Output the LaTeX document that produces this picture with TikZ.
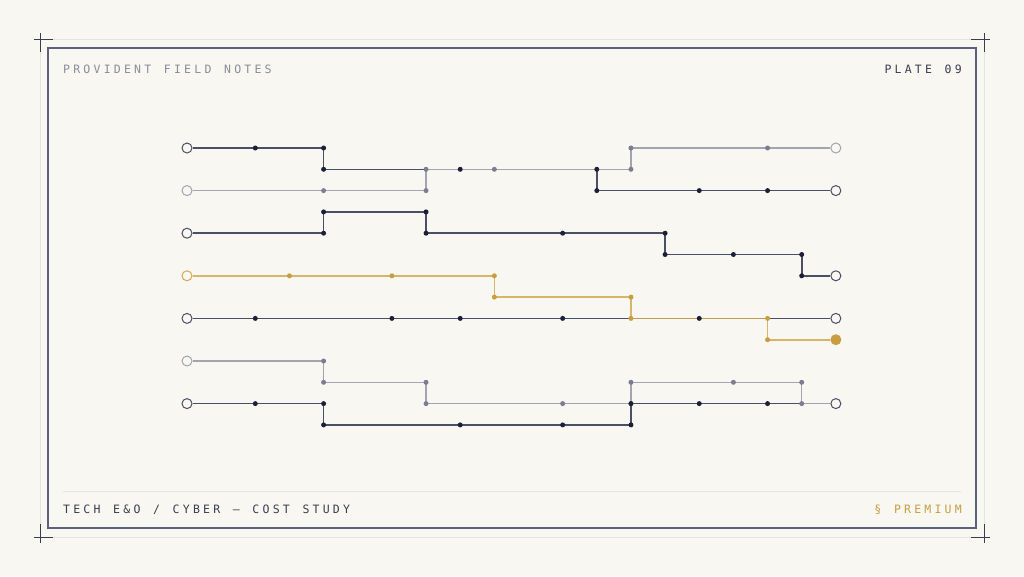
\documentclass[tikz,border=0pt]{standalone}
\usepackage{fontspec}
\newfontfamily\platefont[LetterSpace=28, WordSpace=1.25]{DejaVu Sans Mono}
\definecolor{paper}{HTML}{F8F7F2}
\definecolor{ink}{HTML}{1B2038}
\definecolor{inkline}{HTML}{4A4F66}
\definecolor{mist}{HTML}{7A7E90}
\definecolor{mistline}{HTML}{A2A5B1}
\definecolor{ochre}{HTML}{C99E40}
\definecolor{ochreline}{HTML}{D2AA52}
\definecolor{framecol}{HTML}{5C6078}
\definecolor{rulecol}{HTML}{E6E4DC}
\definecolor{textgrey}{HTML}{8A8D99}
\definecolor{textdark}{HTML}{3A3D50}
\begin{document}
\begin{tikzpicture}[x=1pt, y=-1pt,
    caps/.style = {font=\platefont\fontsize{11.5}{13}\selectfont, inner sep=0pt},
    port/.style = {circle, fill=paper, line width=1pt, inner sep=0pt, minimum size=10pt},
    inkdot/.style = {circle, fill=ink, inner sep=0pt, minimum size=5pt},
    mistdot/.style = {circle, fill=mist, inner sep=0pt, minimum size=5pt},
    ochredot/.style = {circle, fill=ochre, inner sep=0pt, minimum size=5pt},
    inkwire/.style = {draw=inkline, line width=1.6pt},
    mistwire/.style = {draw=mistline, line width=1.4pt},
    ochrewire/.style = {draw=ochreline, line width=1.6pt, opacity=0.85}]

    % page and frame
    \fill[paper] (0,0) rectangle (1024,576);
    \useasboundingbox (0,0) rectangle (1024,576);
    \draw[rulecol, line width=0.7pt] (40,39) rectangle (984,537);
    \draw[framecol, line width=1.3pt] (48,48) rectangle (976,528);
    \draw[rulecol, line width=0.7pt] (63,491) -- (961,491);
    \foreach \x/\y/\sx/\sy in {40/39/1/1, 984/39/-1/1, 40/537/1/-1, 984/537/-1/-1}
        \draw[textdark, line width=0.8pt] (\x-6*\sx,\y) -- ++(19*\sx,0) (\x,\y-6*\sy) -- ++(0,19*\sy);

    % captions
    \node[caps, text=textgrey, anchor=base west] (series) at (63,73) {PROVIDENT FIELD NOTES};
    \node[caps, text=textdark, anchor=base east] (plate) at (962,73) {PLATE 09};
    \node[caps, text=textdark, anchor=base west] (study) at (63,513) {TECH E\&O / CYBER — COST STUDY};
    \node[caps, text=ochre, anchor=base east] (tier) at (962,513) {§ PREMIUM};

    \begin{scope}[shift={(187,148)}, x=34.15pt, y=-21.3pt]
        % turning points of each wire
        \foreach \c/\r [count=\i] in {2/0,4/0,4/1,8/1,12/1,12/2,15/2,17/2} \coordinate (a\i) at (\c,\r);
        \foreach \c/\r [count=\i] in {4/2,7/2,7/1,9/1,13/1,13/0,17/0} \coordinate (b\i) at (\c,\r);
        \foreach \c/\r [count=\i] in {4/4,4/3,7/3,7/4,11/4,14/4,14/5,16/5,18/5,18/6} \coordinate (c\i) at (\c,\r);
        \foreach \c/\r [count=\i] in {3/6,6/6,9/6,9/7,13/7,13/8,17/8,17/9} \coordinate (d\i) at (\c,\r);
        \foreach \c/\r [count=\i] in {2/8,6/8,8/8,11/8,15/8} \coordinate (e\i) at (\c,\r);
        \foreach \c/\r [count=\i] in {4/10,4/11,7/11,7/12,11/12,13/12,13/11,16/11,18/11,18/12} \coordinate (f\i) at (\c,\r);
        \foreach \c/\r [count=\i] in {2/12,4/12,4/13,8/13,11/13,13/13,13/12,15/12,17/12} \coordinate (g\i) at (\c,\r);

        % ports
        \node[port, draw=inkline] (aS) at (0,0) {};
        \node[port, draw=mistline] (bS) at (0,2) {};
        \node[port, draw=inkline] (cS) at (0,4) {};
        \node[port, draw=ochreline] (dS) at (0,6) {};
        \node[port, draw=inkline] (eS) at (0,8) {};
        \node[port, draw=mistline] (fS) at (0,10) {};
        \node[port, draw=inkline] (gS) at (0,12) {};
        \node[port, draw=mistline] (bE) at (19,0) {};
        \node[port, draw=inkline] (aE) at (19,2) {};
        \node[port, draw=inkline] (cE) at (19,6) {};
        \node[port, draw=inkline] (eE) at (19,8) {};
        \node[circle, fill=ochre, inner sep=0pt, minimum size=11pt] (dE) at (19,9) {};
        \node[port, draw=inkline] (gE) at (19,12) {};

        % wires
        \draw[inkwire] (aS) -- (a1) -- (a2) -- (a3) -- (a4) -- (a5) -- (a6) -- (a7) -- (a8) -- (aE);
        \draw[inkwire] (cS) -- (c1) -- (c2) -- (c3) -- (c4) -- (c5) -- (c6) -- (c7) -- (c8) -- (c9) -- (c10) -- (cE);
        \draw[inkwire] (eS) -- (e1) -- (e2) -- (e3) -- (e4) -- (e5) -- (eE);
        \draw[inkwire] (gS) -- (g1) -- (g2) -- (g3) -- (g4) -- (g5) -- (g6) -- (g7) -- (g8) -- (g9) -- (gE);
        \draw[mistwire] (bS) -- (b1) -- (b2) -- (b3) -- (b4) -- (b5) -- (b6) -- (b7) -- (bE);
        \draw[mistwire] (fS) -- (f1) -- (f2) -- (f3) -- (f4) -- (f5) -- (f6) -- (f7) -- (f8) -- (f9) -- (f10) -- (gE);
        \draw[ochrewire] (dS) -- (d1) -- (d2) -- (d3) -- (d4) -- (d5) -- (d6) -- (d7) -- (d8) -- (dE);

        % joints
        \foreach \i in {1,...,7} \node[mistdot] at (b\i) {};
        \foreach \i in {1,...,10} \node[mistdot] at (f\i) {};
        \foreach \i in {1,...,8} \node[inkdot] at (a\i) {};
        \foreach \i in {1,...,10} \node[inkdot] at (c\i) {};
        \foreach \i in {1,...,5} \node[inkdot] at (e\i) {};
        \foreach \i in {1,...,9} \node[inkdot] at (g\i) {};
        \foreach \i in {1,...,8} \node[ochredot] at (d\i) {};
    \end{scope}
\end{tikzpicture}
\end{document}
